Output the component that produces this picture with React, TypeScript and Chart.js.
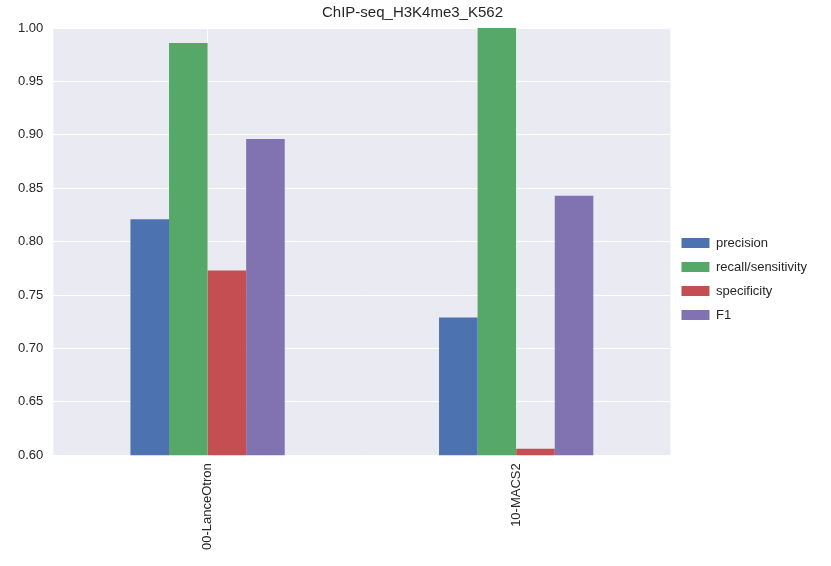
import React, { useEffect, useRef } from 'react';
import { Chart, registerables } from 'chart.js';

Chart.register(...registerables);

const categories = ['00-LanceOtron', '10-MACS2'];
const precision = [0.821, 0.729];
const recall = [0.986, 1.0];
const specificity = [0.773, 0.606];
const f1 = [0.896, 0.843];
const yTicks = [0.6, 0.65, 0.7, 0.75, 0.8, 0.85, 0.9, 0.95, 1.0];

const FONT = 'Liberation Sans, Arial, sans-serif';

const bgPlugin = {
  id: 'areaBg',
  beforeDraw(chart: any) {
    const { ctx, chartArea } = chart;
    if (!chartArea) return;
    ctx.save();
    ctx.fillStyle = '#EAEAF2';
    ctx.fillRect(chartArea.left, chartArea.top, chartArea.right - chartArea.left, chartArea.bottom - chartArea.top);
    ctx.restore();
  },
};

export default function App() {
  const ref = useRef<HTMLCanvasElement>(null);

  useEffect(() => {
    document.body.style.margin = '0';
    if (!ref.current) return;
    const mk = (label: string, data: number[], color: string) => ({
      label, data, backgroundColor: color, borderWidth: 0,
      barPercentage: 1, categoryPercentage: 0.5,
    });
    const chart = new Chart(ref.current, {
      type: 'bar',
      data: {
        labels: categories,
        datasets: [
          mk('precision', precision, '#4C72B0'),
          mk('recall/sensitivity', recall, '#55A868'),
          mk('specificity', specificity, '#C44E52'),
          mk('F1', f1, '#8172B2'),
        ],
      },
      options: {
        animation: false,
        responsive: false,
        layout: { padding: { top: 0, right: 14, bottom: 8, left: 8 } },
        plugins: {
          title: {
            display: true, text: 'ChIP-seq_H3K4me3_K562', color: '#262626',
            font: { family: FONT, size: 15, weight: 'normal' }, padding: { top: 4, bottom: 6 },
          },
          legend: {
            position: 'right',
            labels: {
              boxWidth: 28, boxHeight: 10, color: '#262626', padding: 11,
              font: { family: FONT, size: 13 },
            },
          },
          tooltip: { enabled: false },
        },
        scales: {
          x: {
            grid: { color: '#ffffff', lineWidth: 1, offset: false, drawTicks: false },
            border: { display: false },
            ticks: {
              minRotation: 90, maxRotation: 90, color: '#262626', padding: 8,
              font: { family: FONT, size: 13 },
            },
          },
          y: {
            min: 0.6, max: 1.0,
            afterBuildTicks: (axis: any) => { axis.ticks = yTicks.map((v) => ({ value: v })); },
            grid: { color: '#ffffff', lineWidth: 1, drawTicks: false },
            border: { display: false },
            ticks: {
              color: '#262626', padding: 10,
              font: { family: FONT, size: 13 },
              callback: (v: any) => Number(v).toFixed(2),
            },
          },
        },
      },
      plugins: [bgPlugin],
    } as any);
    return () => chart.destroy();
  }, []);

  return <canvas ref={ref} width={831} height={566} style={{ display: 'block' }} />;
}
